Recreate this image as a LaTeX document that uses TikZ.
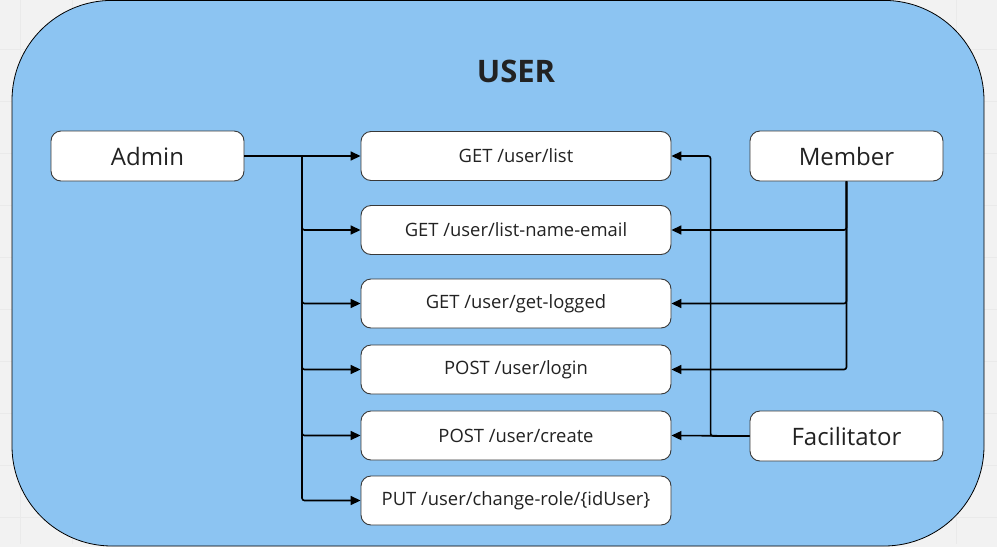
\documentclass[tikz,border=0pt]{standalone}
\usepackage{fontspec}
\setmainfont{Open Sans}
\usetikzlibrary{arrows.meta}
\definecolor{paper}{RGB}{242,242,242}
\definecolor{panel}{RGB}{140,196,242}
\definecolor{ink}{RGB}{34,34,34}
\begin{document}
\begin{tikzpicture}[x=1pt,y=-1pt,
      role/.style={rectangle,draw=ink!90,fill=white,rounded corners=10pt,line width=0.9pt,
        minimum width=193pt,minimum height=50pt,inner sep=0pt,text=ink,
        font=\fontsize{24}{28}\selectfont},
      route/.style={rectangle,draw=ink!90,fill=white,rounded corners=10pt,line width=0.9pt,
        minimum width=310pt,minimum height=49pt,inner sep=0pt,text=ink,
        font=\fontsize{18.4}{22}\selectfont},
      conn/.style={draw=black,line width=1.6pt,rounded corners=2.5pt,
        -{Triangle[length=10pt,width=9pt]}}]
      \useasboundingbox (0,0) rectangle (997,547);
      % Backdrop
      \fill[paper] (0,0) rectangle (997,547);
      \draw[black,opacity=0.03,line width=0.8pt,xshift=20pt,yshift=3pt,step=52pt]
        (-20,-3) grid (997,547);
      \draw[black,line width=0.8pt,fill=panel,rounded corners=100pt]
        (12,0.4) rectangle (984,546);
      \node[font=\fontsize{31}{36}\selectfont\bfseries,text=ink] (title) at (516,71) {USER};
      % Roles
      \node[role] (admin) at (147.5,156) {Admin};
      \node[role] (member) at (846.5,156) {Member};
      \node[role] (facilitator) at (846.5,436) {Facilitator};
      % Routes
      \node[route] (list) at (516,156) {GET /user/list};
      \node[route] (listname) at (516,230) {GET /user/list-name-email};
      \node[route] (logged) at (516,303.5) {GET /user/get-logged};
      \node[route] (login) at (516,369.5) {POST /user/login};
      \node[route] (create) at (516,435.5) {POST /user/create};
      \node[route] (changerole) at (516,500.5) {PUT /user/change-role/\{idUser\}};
      % Admin access
      \coordinate (atrunk) at (302,156);
      \draw[conn] (admin.east) -- (list.west);
      \draw[line width=1.6pt] (admin.east) -- (atrunk);
      \foreach \t in {listname,logged,login,create,changerole}
        \draw[conn] (atrunk) |- (\t.west);
      % Member access
      \foreach \t in {listname,logged,login}
        \draw[conn] (member.south) |- (\t.east);
      % Facilitator access
      \draw[conn] (facilitator.west) -- (create.east);
      \draw[conn] (facilitator.west) -- ++(-39,0) |- (list.east);
    \end{tikzpicture}
\end{document}
